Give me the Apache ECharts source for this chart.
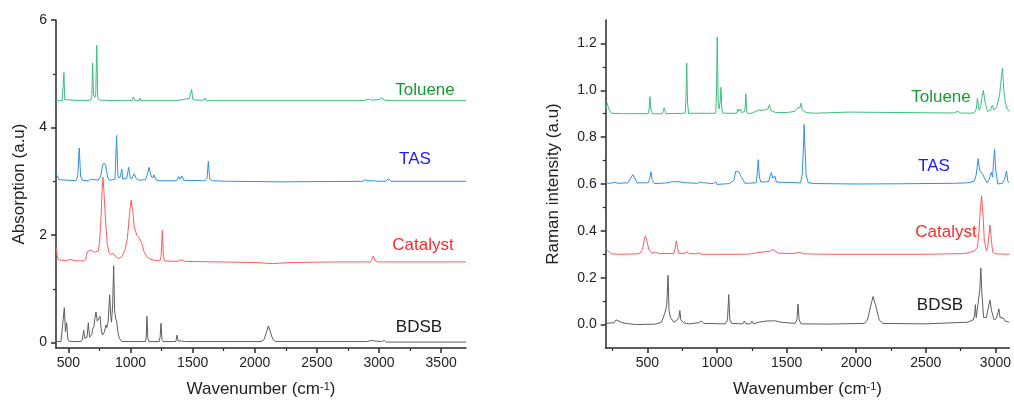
<!DOCTYPE html>
<html>
<head>
<meta charset="utf-8">
<script src="https://cdn.jsdelivr.net/npm/echarts@6/dist/echarts.min.js"></script>
<style>
html,body{margin:0;padding:0;background:#fff;}
#chart{width:1014px;height:403px;}
</style>
</head>
<body>
<div id="chart"></div>
<script>
// ---------- Data (wavenumber, intensity) ----------
const seriesNames = ['Toluene', 'TAS', 'Catalyst', 'BDSB'];

// FTIR (left panel)
const irToluene = [[400,4.5],[450,4.5],[458,4.52],[464,5.02],[470,4.52],[478,4.5],[600,4.5],[680,4.51],[688,4.58],[695,5.20],[702,4.62],[712,4.56],[720,4.62],[728,5.53],[736,4.55],[750,4.51],[885,4.5],[891,4.52],[897,4.5],[1012,4.5],[1022,4.57],[1032,4.51],[1068,4.5],[1076,4.55],[1084,4.5],[1175,4.5],[1180,4.51],[1186,4.5],[1360,4.5],[1372,4.52],[1382,4.51],[1430,4.52],[1452,4.54],[1470,4.53],[1484,4.54],[1492,4.71],[1500,4.53],[1520,4.51],[1590,4.51],[1599,4.55],[1608,4.5],[2000,4.5],[2880,4.5],[2914,4.53],[2940,4.51],[3000,4.52],[3022,4.55],[3045,4.51],[3100,4.5],[3700,4.5]];
const irTAS = [[400,3.14],[410,3.1],[425,3.03],[440,3.01],[560,3.01],[575,3.1],[587,3.62],[598,3.1],[612,3.02],[660,3.01],[679,3.04],[695,3.01],[740,3.02],[760,3.1],[775,3.3],[786,3.34],[800,3.3],[815,3.08],[830,3.02],[875,3.04],[888,3.85],[898,3.1],[910,3.06],[920,3.1],[929,3.23],[938,3.04],[952,3.02],[970,3.06],[985,3.26],[996,3.08],[1008,3.04],[1020,3.1],[1030,3.14],[1045,3.05],[1070,3.02],[1120,3.03],[1138,3.15],[1149,3.26],[1165,3.1],[1178,3.06],[1189,3.12],[1205,3.03],[1230,3.01],[1370,3.01],[1380,3.05],[1388,3.09],[1398,3.04],[1406,3.06],[1414,3.10],[1428,3.02],[1600,3.01],[1615,3.05],[1626,3.37],[1637,3.04],[1660,3.01],[1780,3.0],[1795,3.02],[1810,3.0],[2200,2.99],[2870,3.0],[2887,3.03],[2905,3.01],[2955,3.01],[2968,3.04],[2985,3.0],[3055,3.0],[3075,3.05],[3095,3.0],[3700,3.0]];
const irCatalyst = [[400,1.78],[410,1.62],[420,1.54],[435,1.51],[480,1.52],[513,1.55],[560,1.52],[620,1.52],[640,1.55],[652,1.69],[665,1.68],[680,1.72],[695,1.74],[710,1.68],[725,1.65],[740,1.7],[750,1.85],[762,2.3],[770,2.8],[778,3.08],[786,2.8],[798,2.3],[812,1.85],[825,1.68],[840,1.64],[861,1.66],[880,1.6],[905,1.56],[930,1.6],[955,1.72],[975,1.95],[992,2.4],[1004,2.65],[1015,2.5],[1030,2.15],[1050,2.0],[1066,1.96],[1076,1.95],[1090,1.85],[1110,1.68],[1130,1.6],[1160,1.55],[1200,1.53],[1235,1.52],[1246,1.6],[1256,2.09],[1264,1.6],[1275,1.52],[1380,1.51],[1408,1.54],[1440,1.51],[2000,1.49],[2144,1.47],[2300,1.49],[2654,1.5],[2930,1.5],[2944,1.55],[2954,1.61],[2966,1.53],[2990,1.5],[3700,1.5]];
const irBDSB = [[400,0.02],[440,0.02],[455,0.05],[467,0.65],[476,0.2],[486,0.37],[496,0.05],[513,0.02],[600,0.02],[612,0.06],[623,0.23],[632,0.08],[641,0.05],[650,0.1],[660,0.37],[670,0.1],[679,0.08],[688,0.15],[695,0.25],[705,0.3],[713,0.45],[722,0.57],[732,0.4],[741,0.38],[754,0.49],[764,0.25],[773,0.14],[790,0.2],[802,0.33],[810,0.28],[820,0.4],[832,0.89],[840,0.5],[847,0.38],[856,0.7],[864,1.43],[872,0.6],[880,0.45],[888,0.4],[898,0.2],[910,0.08],[930,0.02],[1120,0.02],[1126,0.1],[1132,0.49],[1139,0.08],[1148,0.02],[1230,0.02],[1238,0.1],[1245,0.36],[1253,0.06],[1262,0.02],[1365,0.02],[1374,0.14],[1383,0.03],[1410,0.03],[1420,0.04],[1435,0.02],[2050,0.02],[2075,0.06],[2095,0.2],[2109,0.31],[2125,0.2],[2145,0.06],[2170,0.02],[2900,0.02],[2940,0.04],[2954,0.07],[2968,0.03],[3020,0.02],[3043,0.04],[3060,0.01],[3700,0.01]];

// Raman (right panel)
const ramToluene = [[200,0.92],[211,0.945],[222,0.92],[240,0.902],[330,0.9],[344,0.906],[358,0.9],[505,0.9],[512,0.92],[518,0.973],[525,0.915],[535,0.9],[608,0.9],[620,0.925],[632,0.9],[770,0.902],[776,0.95],[782,1.116],[788,0.95],[795,0.902],[990,0.902],[996,0.98],[1001,1.228],[1008,0.95],[1015,0.92],[1022,0.95],[1028,1.013],[1034,0.92],[1042,0.902],[1140,0.902],[1150,0.92],[1158,0.91],[1169,0.92],[1176,0.905],[1200,0.91],[1207,0.985],[1214,0.905],[1235,0.9],[1260,0.905],[1300,0.915],[1340,0.915],[1365,0.92],[1376,0.938],[1386,0.915],[1420,0.905],[1500,0.905],[1560,0.91],[1578,0.925],[1587,0.93],[1595,0.925],[1603,0.945],[1612,0.915],[1640,0.905],[1700,0.902],[1950,0.907],[2300,0.905],[2700,0.903],[2730,0.91],[2750,0.903],[2820,0.902],[2848,0.904],[2862,0.92],[2871,0.966],[2882,0.915],[2893,0.925],[2903,0.97],[2913,1.0],[2925,0.95],[2942,0.91],[2965,0.915],[2977,0.935],[2990,0.915],[3010,0.93],[3030,0.98],[3045,1.07],[3051,1.095],[3060,1.0],[3071,0.95],[3085,0.92],[3100,0.91]];
const ramTAS = [[200,0.605],[230,0.603],[266,0.607],[290,0.603],[360,0.605],[380,0.625],[395,0.64],[410,0.625],[425,0.605],[505,0.605],[515,0.62],[525,0.652],[535,0.615],[550,0.602],[596,0.603],[640,0.605],[678,0.61],[720,0.61],[780,0.605],[860,0.603],[880,0.608],[890,0.616],[900,0.605],[915,0.605],[926,0.61],[940,0.603],[975,0.602],[990,0.61],[1000,0.598],[1090,0.602],[1120,0.615],[1135,0.655],[1145,0.663],[1158,0.65],[1170,0.655],[1180,0.625],[1190,0.618],[1200,0.603],[1280,0.605],[1288,0.64],[1296,0.704],[1304,0.63],[1315,0.608],[1370,0.61],[1382,0.635],[1390,0.649],[1400,0.625],[1410,0.623],[1417,0.633],[1426,0.608],[1440,0.603],[1600,0.605],[1612,0.64],[1620,0.75],[1626,0.854],[1632,0.75],[1640,0.64],[1655,0.605],[1700,0.602],[2000,0.6],[2300,0.601],[2700,0.603],[2800,0.605],[2848,0.612],[2862,0.64],[2876,0.708],[2886,0.66],[2898,0.65],[2910,0.64],[2917,0.645],[2930,0.615],[2940,0.605],[2955,0.62],[2970,0.65],[2980,0.63],[2987,0.7],[2994,0.747],[3002,0.66],[3017,0.6],[3050,0.603],[3066,0.62],[3079,0.655],[3090,0.61],[3100,0.605]];
const ramCatalyst = [[200,0.325],[215,0.315],[240,0.302],[300,0.3],[440,0.302],[465,0.32],[478,0.365],[485,0.378],[495,0.36],[510,0.32],[530,0.305],[560,0.31],[580,0.303],[690,0.303],[700,0.33],[707,0.357],[715,0.33],[725,0.305],[760,0.303],[785,0.31],[800,0.303],[850,0.302],[870,0.306],[890,0.3],[1180,0.3],[1244,0.302],[1270,0.305],[1330,0.31],[1380,0.312],[1395,0.32],[1405,0.326],[1418,0.314],[1440,0.305],[1540,0.303],[1598,0.308],[1620,0.302],[1800,0.3],[2100,0.3],[2500,0.3],[2770,0.303],[2800,0.306],[2850,0.315],[2870,0.33],[2880,0.38],[2888,0.46],[2900,0.55],[2912,0.46],[2920,0.36],[2935,0.315],[2945,0.33],[2955,0.39],[2961,0.425],[2968,0.38],[2980,0.31],[3000,0.302],[3100,0.3]];
const ramBDSB = [[200,0.005],[260,0.008],[275,0.02],[285,0.028],[295,0.015],[310,0.01],[340,0.005],[420,0.0],[560,0.002],[600,0.01],[624,0.047],[638,0.08],[648,0.21],[655,0.06],[665,0.03],[690,0.01],[705,0.015],[715,0.01],[726,0.03],[733,0.06],[740,0.02],[760,0.008],[800,0.003],[870,0.008],[886,0.015],[905,0.005],[1060,0.003],[1075,0.02],[1084,0.128],[1092,0.02],[1105,0.005],[1185,0.003],[1197,0.015],[1208,0.003],[1240,0.003],[1251,0.015],[1262,0.003],[1300,0.01],[1350,0.015],[1420,0.016],[1460,0.01],[1560,0.005],[1574,0.02],[1582,0.088],[1590,0.02],[1605,0.003],[1800,0.002],[2060,0.005],[2081,0.02],[2100,0.07],[2121,0.12],[2140,0.08],[2165,0.02],[2190,0.005],[2470,0.003],[2480,0.008],[2490,0.003],[2800,0.01],[2840,0.02],[2850,0.04],[2856,0.085],[2862,0.03],[2875,0.03],[2888,0.15],[2895,0.241],[2903,0.13],[2915,0.03],[2935,0.03],[2950,0.075],[2961,0.104],[2972,0.06],[2990,0.02],[3005,0.025],[3018,0.05],[3025,0.067],[3033,0.03],[3045,0.025],[3055,0.028],[3070,0.015],[3100,0.01]];

// Tick values
const irXMajor = [500,1000,1500,2000,2500,3000,3500];
const irXMinor = [750,1250,1750,2250,2750,3250];
const irYMajor = [0,2,4,6];
const irYMinor = [1,3,5];
const ramXMajor = [500,1000,1500,2000,2500,3000];
const ramXMinor = [250,750,1250,1750,2250,2750];
const ramYMajor = [0,0.2,0.4,0.6,0.8,1.0,1.2];
const ramYMinor = [0.1,0.3,0.5,0.7,0.9,1.1];

// ---------- Styles ----------
const lineColors = ['#3cbf7c', '#2f8fea', '#ff5c5c', '#5e5e5e'];
const labelColors = ['#169a34', '#1a1aff', '#ff2a2a', '#1a1a1a'];
const FONT = 'Liberation Sans, Arial, Helvetica, sans-serif';
const axisColor = '#2a2a2a';

function xMajor(grid, min, max, ticks) {
  return {
    type: 'value', gridIndex: grid, min: min, max: max, position: 'bottom',
    axisLine: { show: true, onZero: false, lineStyle: { color: axisColor, width: 1.5 } },
    axisTick: { show: true, customValues: ticks, length: 5, lineStyle: { color: axisColor, width: 1.5 } },
    axisLabel: { show: true, customValues: ticks, fontSize: 14, color: '#222', margin: 8, fontFamily: FONT, formatter: v => String(v) },
    splitLine: { show: false },
    name: 'Wavenumber (cm{sup|-1})', nameLocation: 'middle', nameGap: 33,
    nameTextStyle: { fontSize: 17, color: '#222', fontFamily: FONT,
      rich: { sup: { fontSize: 11, color: '#222', fontFamily: FONT, verticalAlign: 'top', lineHeight: 12 } } }
  };
}
function xMinor(grid, min, max, ticks) {
  return {
    type: 'value', gridIndex: grid, min: min, max: max, position: 'bottom', offset: 0,
    axisLine: { show: false, onZero: false },
    axisTick: { show: true, customValues: ticks, length: 3, lineStyle: { color: axisColor, width: 1.2 } },
    axisLabel: { show: false }, splitLine: { show: false }
  };
}
function yMajor(grid, min, max, ticks, name, gap, fmt) {
  return {
    type: 'value', gridIndex: grid, min: min, max: max, position: 'left',
    axisLine: { show: true, onZero: false, lineStyle: { color: axisColor, width: 1.5 } },
    axisTick: { show: true, customValues: ticks, length: 5, lineStyle: { color: axisColor, width: 1.5 } },
    axisLabel: { show: true, customValues: ticks, fontSize: 14, color: '#222', margin: 9, fontFamily: FONT, formatter: fmt },
    splitLine: { show: false },
    name: name, nameLocation: 'middle', nameGap: gap,
    nameTextStyle: { fontSize: 17, color: '#222', fontFamily: FONT }
  };
}
function yMinor(grid, min, max, ticks) {
  return {
    type: 'value', gridIndex: grid, min: min, max: max, position: 'left', offset: 0,
    axisLine: { show: false, onZero: false },
    axisTick: { show: true, customValues: ticks, length: 3, lineStyle: { color: axisColor, width: 1.2 } },
    axisLabel: { show: false }, splitLine: { show: false }
  };
}

const irData = [irToluene, irTAS, irCatalyst, irBDSB];
const ramData = [ramToluene, ramTAS, ramCatalyst, ramBDSB];

const series = [];
irData.forEach((d, i) => series.push({
  type: 'line', name: 'IR ' + seriesNames[i], xAxisIndex: 0, yAxisIndex: 0, data: d,
  showSymbol: false, symbol: 'none', lineStyle: { color: lineColors[i], width: 1 }, silent: true
}));
ramData.forEach((d, i) => series.push({
  type: 'line', name: 'Raman ' + seriesNames[i], xAxisIndex: 2, yAxisIndex: 2, data: d,
  showSymbol: false, symbol: 'none', lineStyle: { color: lineColors[i], width: 1 }, silent: true
}));

// Label positions (pixel) for the curve names
const irLabelPos = [[425, 90], [415, 159], [423, 245], [419, 327]];
const ramLabelPos = [[941, 97], [934, 166], [946, 232], [940, 305]];
const graphics = [];
seriesNames.forEach((n, i) => {
  graphics.push({ type: 'text', x: irLabelPos[i][0], y: irLabelPos[i][1],
    style: { text: n, fill: labelColors[i], font: '17px ' + FONT, textAlign: 'center', textVerticalAlign: 'middle' } });
  graphics.push({ type: 'text', x: ramLabelPos[i][0], y: ramLabelPos[i][1],
    style: { text: n, fill: labelColors[i], font: '17px ' + FONT, textAlign: 'center', textVerticalAlign: 'middle' } });
});

const option = {
  animation: false,
  backgroundColor: '#fff',
  textStyle: { fontFamily: FONT },
  grid: [
    { left: 56, top: 20, width: 410, height: 330.7, containLabel: false },
    { left: 605.7, top: 20, width: 410, height: 330, containLabel: false }
  ],
  xAxis: [
    xMajor(0, 400, 3700, irXMajor),
    xMinor(0, 400, 3700, irXMinor),
    xMajor(1, 200, 3100, ramXMajor),
    xMinor(1, 200, 3100, ramXMinor)
  ],
  yAxis: [
    yMajor(0, -0.1, 6, irYMajor, 'Absorption (a.u)', 28, v => String(v)),
    yMinor(0, -0.1, 6, irYMinor),
    yMajor(1, -0.1, 1.3, ramYMajor, 'Raman intensity (a.u)', 44, v => Number(v).toFixed(1)),
    yMinor(1, -0.1, 1.3, ramYMinor)
  ],
  series: series,
  graphic: graphics
};

const chart = echarts.init(document.getElementById('chart'), null, { renderer: 'canvas' });
chart.setOption(option);
</script>
</body>
</html>
